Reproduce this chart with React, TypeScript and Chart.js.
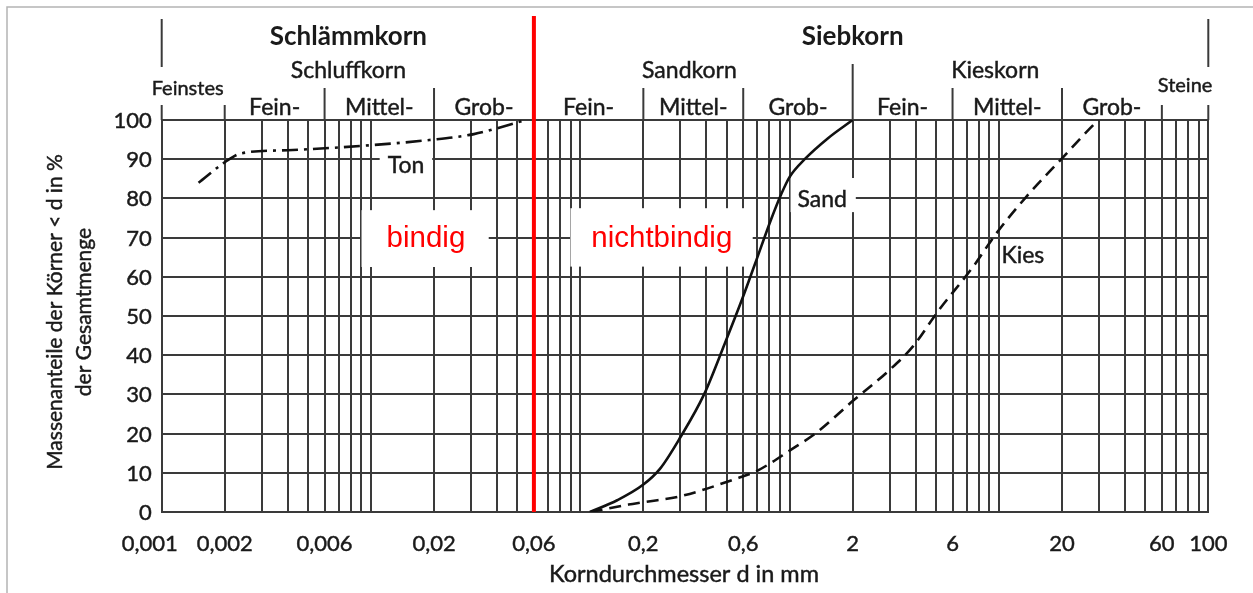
import { useEffect, useRef } from 'react';
import { Chart, registerables } from 'chart.js';

Chart.register(...registerables);

// Sieblinien: Korndurchmesser d in mm / Massenanteil < d in %
const tonD = [0.0015, 0.002, 0.0024, 0.004, 0.009, 0.019, 0.031, 0.055];
const tonP = [84, 89.2, 91.5, 92.3, 93.4, 94.9, 96.4, 100];

const sandD = [0.111, 0.15, 0.2, 0.24, 0.3, 0.39, 0.49, 0.59, 0.68, 0.82, 0.91, 1.0, 1.18, 1.52, 2.0];
const sandP = [0, 3, 7, 11, 19, 30, 43, 54, 63, 75, 81, 85.5, 90, 95.3, 100];

const kiesD = [0.112, 0.17, 0.2, 0.3, 0.555, 0.693, 1.016, 1.341, 2.0, 3.01, 3.89, 5.08, 7.53, 9.72, 13.5, 20, 28.2, 30];
const kiesP = [0, 1.9, 2.5, 4.0, 8.5, 10.4, 15.9, 20.2, 28.3, 36.3, 42.3, 51, 62.6, 71.1, 80.4, 90.2, 98.7, 100];

// Achsen
const decades = [0.001, 0.01, 0.1, 1, 10];
const mantissas = [1, 2, 3, 4, 5, 6, 7, 8, 9];
const xLabelValues = [0.001, 0.002, 0.006, 0.02, 0.06, 0.2, 0.6, 2, 6, 20, 60, 100];
const yMax = 100;
const yStep = 10;

// Grenze bindig / nichtbindig
const boundaryD = 0.06;

const FONT = 'Lato, "Open Sans", sans-serif';
const INK = '#1a1a1a';
const GRID = '#3a3a3a';

const gridValues = decades
  .flatMap((d) => mantissas.map((m) => Number((m * d).toPrecision(2))))
  .concat(100);

const toPoints = (ds: number[], ps: number[]) => ds.map((d, i) => ({ x: d, y: ps[i] }));

const fmt = (v: number) => String(v).replace('.', ',');

// Text mit leichter Kontur, damit die Schrift kräftiger wirkt
const heavyText = (ctx: CanvasRenderingContext2D, t: string, x: number, y: number, w = 0.45) => {
  ctx.fillText(t, x, y);
  ctx.lineWidth = w;
  ctx.strokeStyle = ctx.fillStyle as string;
  ctx.strokeText(t, x, y);
};

const overlay = {
  id: 'overlay',
  beforeDatasetsDraw(chart: any) {
    const { ctx, chartArea, scales } = chart;
    const x = scales.x;
    const y = scales.y;
    const px = (v: number) => x.getPixelForValue(v);
    const py = (v: number) => y.getPixelForValue(v);

    ctx.save();
    // weiße Felder hinter den Beschriftungen
    ctx.fillStyle = '#ffffff';
    const boxes: [number, number, number, number][] = [
      [0.00901, 0.0365, 77.0, 62.5], // bindig
      [0.0897, 0.666, 77.5, 62.6], // nichtbindig
      [0.011, 0.0196, 92.3, 85.2], // Ton
      [1.01, 2.07, 85.2, 76.5], // Sand
      [10.4, 17.4, 68.6, 62.2], // Kies
    ];
    boxes.forEach(([d0, d1, p0, p1]) => {
      ctx.fillRect(px(d0), py(p0), px(d1) - px(d0), py(p1) - py(p0));
    });

    // Trennlinie bindig / nichtbindig
    ctx.strokeStyle = '#ff0000';
    ctx.lineWidth = 4;
    ctx.beginPath();
    ctx.moveTo(px(boundaryD), 16);
    ctx.lineTo(px(boundaryD), chartArea.bottom);
    ctx.stroke();
    ctx.restore();
  },
  afterDatasetsDraw(chart: any) {
    const { ctx, chartArea, scales } = chart;
    const x = scales.x;
    const y = scales.y;
    const px = (v: number) => x.getPixelForValue(v);
    const py = (v: number) => y.getPixelForValue(v);
    const top = chartArea.top;

    ctx.save();

    // Rahmen
    ctx.strokeStyle = '#b4b4b4';
    ctx.lineWidth = 1.5;
    ctx.beginPath();
    ctx.moveTo(7, chart.height);
    ctx.lineTo(7, 7);
    ctx.lineTo(chart.width, 7);
    ctx.stroke();

    // Trennstriche der Kornbereiche
    ctx.strokeStyle = GRID;
    ctx.lineWidth = 2;
    const seps: [number, number, number][] = [
      [0.001, 19, 67],
      [0.001, 105, top],
      [0.002, 105, top],
      [0.006, 88, top],
      [0.02, 88, top],
      [0.2, 88, top],
      [0.6, 88, top],
      [2, 64, top],
      [6, 88, top],
      [20, 88, top],
      [60, 105, top],
      [100, 19, 67],
      [100, 105, top],
    ];
    seps.forEach(([d, y0, y1]) => {
      ctx.beginPath();
      ctx.moveTo(px(d), y0);
      ctx.lineTo(px(d), y1);
      ctx.stroke();
    });

    ctx.fillStyle = INK;
    ctx.textAlign = 'center';
    ctx.textBaseline = 'alphabetic';

    // Hauptgruppen
    ctx.font = `bold 26px ${FONT}`;
    ctx.fillText('Schlämmkorn', px(0.0078), 45);
    ctx.fillText('Siebkorn', px(2), 45);

    ctx.font = `23px ${FONT}`;
    heavyText(ctx, 'Schluffkorn', px(0.0078), 78);
    heavyText(ctx, 'Sandkorn', px(0.332), 78);
    heavyText(ctx, 'Kieskorn', px(9.6), 78);

    ctx.font = `20px ${FONT}`;
    heavyText(ctx, 'Feinstes', px(0.00133), 95);
    heavyText(ctx, 'Steine', (px(60) + px(100)) / 2, 92);

    ctx.font = `23px ${FONT}`;
    const subs: [string, number, number][] = [
      ['Fein-', 0.002, 0.006],
      ['Mittel-', 0.006, 0.02],
      ['Grob-', 0.02, 0.06],
      ['Fein-', 0.06, 0.2],
      ['Mittel-', 0.2, 0.6],
      ['Grob-', 0.6, 2],
      ['Fein-', 2, 6],
      ['Mittel-', 6, 20],
      ['Grob-', 20, 60],
    ];
    subs.forEach(([t, a, b]) => heavyText(ctx, t, (px(a) + px(b)) / 2, 115));

    // Kurvenbeschriftungen
    heavyText(ctx, 'Ton', px(0.0147), 173);
    heavyText(ctx, 'Sand', px(1.43), 207);
    heavyText(ctx, 'Kies', px(13), 263);

    ctx.fillStyle = '#ff0000';
    ctx.font = `29.5px "Liberation Sans", Arial, sans-serif`;
    ctx.fillText('bindig', px(0.0183), 247);
    ctx.fillText('nichtbindig', px(0.245), 247);

    // Achsenbeschriftung x
    ctx.fillStyle = INK;
    ctx.font = `22px ${FONT}`;
    xLabelValues.forEach((v) => {
      const shift = v === xLabelValues[0] ? -12 : 0;
      heavyText(ctx, fmt(v), px(v) + shift, 551);
    });

    // Achsenbeschriftung y
    ctx.textAlign = 'right';
    ctx.textBaseline = 'middle';
    for (let v = 0; v <= yMax; v += yStep) {
      heavyText(ctx, String(v), chartArea.left - 10, py(v) + 1);
    }

    // Achsentitel
    ctx.textAlign = 'center';
    ctx.textBaseline = 'alphabetic';
    ctx.font = `23.5px ${FONT}`;
    heavyText(ctx, 'Korndurchmesser d in mm', 684, 582);

    ctx.save();
    ctx.translate(0, (chartArea.top + chartArea.bottom) / 2 - 4);
    ctx.rotate(-Math.PI / 2);
    ctx.textBaseline = 'middle';
    ctx.font = `21px ${FONT}`;
    heavyText(ctx, 'Massenanteile der Körner < d in %', 0, 55);
    heavyText(ctx, 'der Gesamtmenge', 0, 84);
    ctx.restore();

    ctx.restore();
  },
};

export default function App() {
  const ref = useRef<HTMLCanvasElement>(null);

  useEffect(() => {
    document.body.style.margin = '0';
    const canvas = ref.current;
    if (!canvas) return;

    const lineBase = {
      borderColor: '#111111',
      borderWidth: 2.6,
      pointRadius: 0,
      fill: false,
      cubicInterpolationMode: 'monotone' as const,
    };

    const chart = new Chart(canvas, {
      type: 'line',
      data: {
        datasets: [
          { ...lineBase, label: 'Ton', data: toPoints(tonD, tonP), borderDash: [16, 6, 3, 6] },
          { ...lineBase, label: 'Sand', data: toPoints(sandD, sandP) },
          { ...lineBase, label: 'Kies', data: toPoints(kiesD, kiesP), borderDash: [12, 7] },
        ],
      },
      options: {
        animation: false,
        responsive: false,
        events: [],
        layout: { padding: { left: 0, right: 44.7, top: 120, bottom: 0 } },
        plugins: {
          legend: { display: false },
          tooltip: { enabled: false },
        },
        scales: {
          x: {
            type: 'logarithmic',
            min: 0.001,
            max: 100,
            afterBuildTicks: (s: any) => {
              s.ticks = gridValues.map((v) => ({ value: v }));
            },
            afterFit: (s: any) => {
              s.height = 81;
            },
            ticks: {
              autoSkip: false,
              maxRotation: 0,
              callback: () => '',
            },
            grid: { color: GRID, lineWidth: 2, drawTicks: false },
            border: { color: GRID, width: 2 },
          },
          y: {
            min: 0,
            max: yMax,
            afterFit: (s: any) => {
              s.width = 161.7;
            },
            ticks: {
              stepSize: yStep,
              callback: () => '',
            },
            grid: { color: GRID, lineWidth: 2, drawTicks: false },
            border: { color: GRID, width: 2 },
          },
        },
      },
      plugins: [overlay],
    });

    return () => chart.destroy();
  }, []);

  return <canvas ref={ref} width={1253} height={593} style={{ display: 'block' }} />;
}
